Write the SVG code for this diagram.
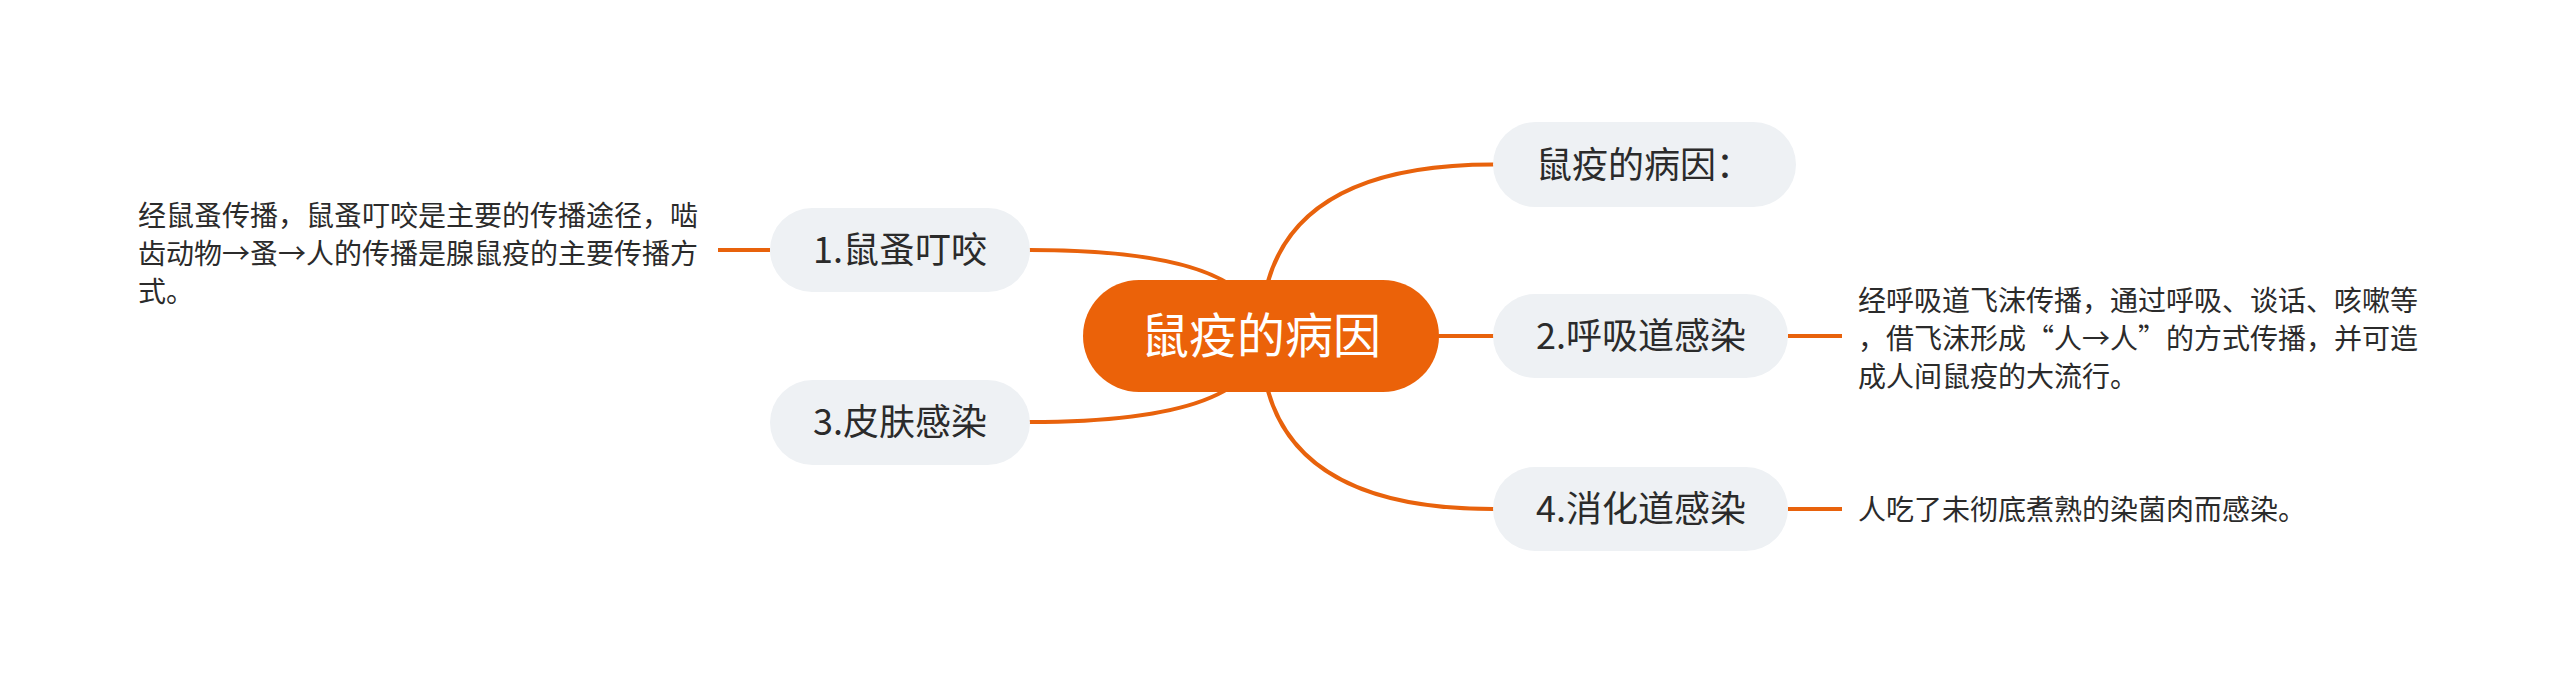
<svg xmlns="http://www.w3.org/2000/svg" width="2560" height="673" viewBox="0 0 2560 673">
<style>
.bg{fill:#ffffff}
.conn{fill:none;stroke:#E8620C;stroke-width:4;stroke-linecap:round}
.leafline{fill:none;stroke:#E8620C;stroke-width:4}
.main{fill:#EB6209}
.pill{fill:#EEF1F4}
.maintext{font-family:"Noto Sans CJK SC","Noto Sans",sans-serif;font-size:48px;fill:#ffffff;text-anchor:middle}
.subtext{font-family:"Noto Sans CJK SC","Noto Sans",sans-serif;font-size:36px;fill:#2b2b2b;text-anchor:middle}
.leaftext{font-family:"Noto Sans CJK SC","Noto Sans",sans-serif;font-size:28px;fill:#2b2b2b}
</style>
<rect class="bg" x="0" y="0" width="2560" height="673"/>
<g id="connectors">
<path class="conn" d="M 1261 336 Q 1261 250 1030 250"/>
<path class="conn" d="M 1261 336 Q 1261 422 1030 422"/>
<path class="conn" d="M 1261 336 Q 1261 164.5 1493 164.5"/>
<path class="conn" d="M 1439 336 L 1493 336"/>
<path class="conn" d="M 1261 336 Q 1261 509 1493 509"/>
<path class="leafline" d="M 718 250 L 770 250"/>
<path class="leafline" d="M 1788 336 L 1842 336"/>
<path class="leafline" d="M 1788 509 L 1842 509"/>
</g>
<g id="root">
<rect class="main" x="1083" y="280" width="356" height="112" rx="56"/>
<text class="maintext" x="1261" y="353">鼠疫的病因</text>
</g>
<g id="node-cause">
<rect class="pill" x="1493" y="122" width="303" height="85" rx="42.5"/>
<text class="subtext" x="1644" y="178">鼠疫的病因：</text>
</g>
<g id="node-1">
<rect class="pill" x="770" y="208" width="260" height="84" rx="42"/>
<text class="subtext" x="900" y="263">1.鼠蚤叮咬</text>
</g>
<g id="node-2">
<rect class="pill" x="1493" y="294" width="295" height="84" rx="42"/>
<text class="subtext" x="1641" y="349">2.呼吸道感染</text>
</g>
<g id="node-3">
<rect class="pill" x="770" y="380" width="260" height="85" rx="42.5"/>
<text class="subtext" x="900" y="435">3.皮肤感染</text>
</g>
<g id="node-4">
<rect class="pill" x="1493" y="467" width="295" height="84" rx="42"/>
<text class="subtext" x="1641" y="522">4.消化道感染</text>
</g>
<g id="leaf-1">
<text class="leaftext" x="138" y="226">经鼠蚤传播，鼠蚤叮咬是主要的传播途径，啮</text>
<text class="leaftext" x="138" y="264">齿动物→蚤→人的传播是腺鼠疫的主要传播方</text>
<text class="leaftext" x="138" y="302">式。</text>
</g>
<g id="leaf-2">
<text class="leaftext" x="1858" y="311">经呼吸道飞沫传播，通过呼吸、谈话、咳嗽等</text>
<text class="leaftext" x="1858" y="349">，借飞沫形成“人→人”的方式传播，并可造</text>
<text class="leaftext" x="1858" y="387">成人间鼠疫的大流行。</text>
</g>
<g id="leaf-4">
<text class="leaftext" x="1858" y="520">人吃了未彻底煮熟的染菌肉而感染。</text>
</g>
</svg>
